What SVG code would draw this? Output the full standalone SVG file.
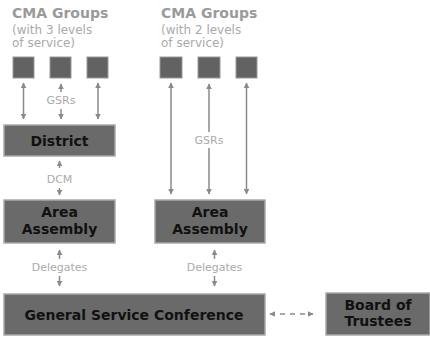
<svg xmlns="http://www.w3.org/2000/svg" width="430" height="337" viewBox="0 0 430 337">
<defs>
<marker id="ah" viewBox="0 0 10 10" refX="9" refY="5" markerWidth="6" markerHeight="6" orient="auto-start-reverse" markerUnits="userSpaceOnUse">
<path d="M0,0 L10,5 L0,10 z" fill="#8a8a8a"/>
</marker>
<style>
.box{fill:#6a6a6a;stroke:#a8a8a8;stroke-width:1.5}
.sq{fill:#626262;stroke:#999;stroke-width:1}
.bt{font-family:"DejaVu Sans",Verdana,sans-serif;font-weight:bold;font-size:14px;fill:#111;text-anchor:middle}
.tt{font-family:"DejaVu Sans",Verdana,sans-serif;font-weight:bold;font-size:14px;fill:#9a9a9a}
.st{font-family:"DejaVu Sans",Verdana,sans-serif;font-size:12px;fill:#aaa}
.lb{font-family:"DejaVu Sans",Verdana,sans-serif;font-size:11px;fill:#aaa;text-anchor:middle}
.ar{stroke:#8a8a8a;stroke-width:1.5;fill:none;marker-start:url(#ah);marker-end:url(#ah)}
.a1{stroke:#8a8a8a;stroke-width:1.5;fill:none;marker-end:url(#ah)}
</style>
</defs>
<rect width="430" height="337" fill="#fff"/>
<g id="title-left">
<text class="tt" x="12" y="18">CMA Groups</text>
<text class="st" x="12" y="34">(with 3 levels</text>
<text class="st" x="12" y="47">of service)</text>
</g>
<g id="title-right">
<text class="tt" x="161" y="18">CMA Groups</text>
<text class="st" x="161" y="34">(with 2 levels</text>
<text class="st" x="161" y="47">of service)</text>
</g>
<g id="groups-left">
<rect class="sq" x="13" y="57" width="21" height="21"/>
<rect class="sq" x="50" y="57" width="21" height="21"/>
<rect class="sq" x="87" y="57" width="21" height="21"/>
</g>
<g id="groups-right">
<rect class="sq" x="160" y="57" width="22" height="21"/>
<rect class="sq" x="198" y="57" width="22" height="21"/>
<rect class="sq" x="236" y="57" width="21" height="21"/>
</g>
<g id="district">
<rect class="box" x="4" y="125" width="111" height="31"/>
<text class="bt" x="59.5" y="146">District</text>
</g>
<g id="area-left">
<rect class="box" x="4" y="200" width="111" height="43"/>
<text class="bt" x="59.5" y="217">Area</text>
<text class="bt" x="59.5" y="234">Assembly</text>
</g>
<g id="area-right">
<rect class="box" x="155" y="200" width="110" height="43"/>
<text class="bt" x="210" y="217">Area</text>
<text class="bt" x="210" y="234">Assembly</text>
</g>
<g id="gsc">
<rect class="box" x="4" y="294" width="261" height="41"/>
<text class="bt" x="134" y="320">General Service Conference</text>
</g>
<g id="board">
<rect class="box" x="326" y="293" width="104" height="42"/>
<text class="bt" x="378" y="310">Board of</text>
<text class="bt" x="378" y="326">Trustees</text>
</g>
<g id="connectors">
<line class="ar" x1="23.5" y1="83" x2="23.5" y2="119"/>
<line class="ar" x1="98" y1="83" x2="98" y2="119"/>
<line class="a1" x1="61" y1="92" x2="61" y2="84"/>
<line class="a1" x1="61" y1="109" x2="61" y2="119"/>
<text class="lb" x="61" y="104">GSRs</text>
<line class="a1" x1="59.5" y1="168" x2="59.5" y2="161"/>
<line class="a1" x1="59.5" y1="188" x2="59.5" y2="195"/>
<text class="lb" x="59.5" y="183">DCM</text>
<line class="ar" x1="171" y1="83" x2="171" y2="194"/>
<line class="ar" x1="246.5" y1="83" x2="246.5" y2="194"/>
<line class="a1" x1="209" y1="132" x2="209" y2="84"/>
<line class="a1" x1="209" y1="148" x2="209" y2="194"/>
<text class="lb" x="209" y="144">GSRs</text>
<line class="a1" x1="59.5" y1="259" x2="59.5" y2="250"/>
<line class="a1" x1="59.5" y1="276" x2="59.5" y2="286"/>
<text class="lb" x="59.5" y="271">Delegates</text>
<line class="a1" x1="214.5" y1="259" x2="214.5" y2="250"/>
<line class="a1" x1="214.5" y1="276" x2="214.5" y2="286"/>
<text class="lb" x="214.5" y="271">Delegates</text>
<line class="ar" x1="270" y1="314" x2="313" y2="314" stroke-dasharray="5,5"/>
</g>
</svg>
